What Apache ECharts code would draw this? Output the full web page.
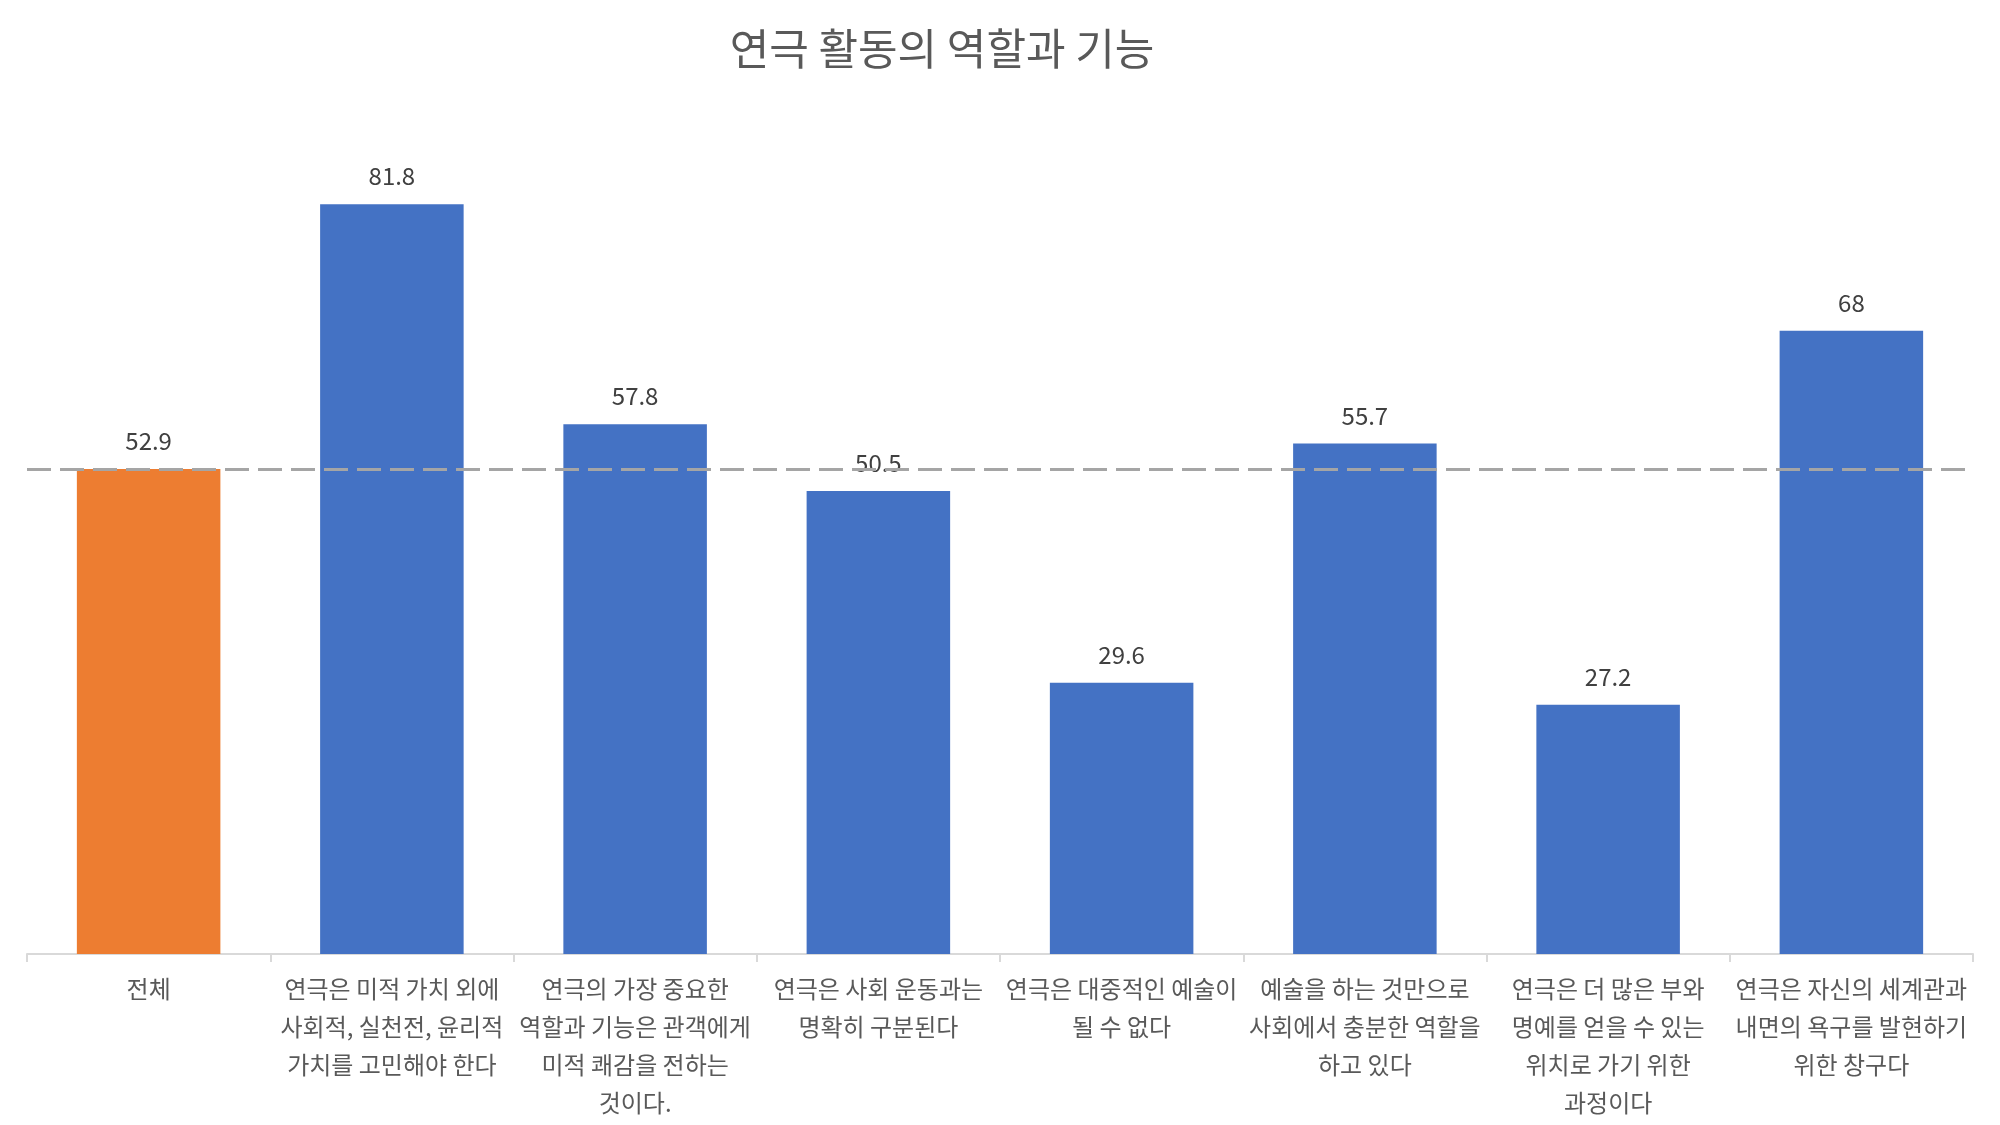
<!DOCTYPE html>
<html>
<head>
<meta charset="utf-8">
<script src="https://cdn.jsdelivr.net/npm/echarts@6/dist/echarts.min.js"></script>
<style>html,body{margin:0;padding:0;background:#fff}#c{width:2000px;height:1125px}</style>
</head>
<body>
<div id="c"></div>
<script>
const titleText = '연극 활동의 역할과 기능';
const categories = [
  '전체',
  '연극은 미적 가치 외에\n사회적, 실천전, 윤리적\n가치를 고민해야 한다',
  '연극의 가장 중요한\n역할과 기능은 관객에게\n미적 쾌감을 전하는\n것이다.',
  '연극은 사회 운동과는\n명확히 구분된다',
  '연극은 대중적인 예술이\n될 수 없다',
  '예술을 하는 것만으로\n사회에서 충분한 역할을\n하고 있다',
  '연극은 더 많은 부와\n명예를 얻을 수 있는\n위치로 가기 위한\n과정이다',
  '연극은 자신의 세계관과\n내면의 욕구를 발현하기\n위한 창구다'
];
const values = [52.9, 81.8, 57.8, 50.5, 29.6, 55.7, 27.2, 68];
const averageValue = 52.9;

const FONT = '"Noto Sans CJK KR", "Noto Sans", sans-serif';
const chart = echarts.init(document.getElementById('c'));
chart.setOption({
  backgroundColor: '#ffffff',
  animation: false,
  title: {
    text: titleText,
    left: 937,
    top: 22,
    textAlign: 'center',
    textStyle: { fontFamily: FONT, fontSize: 43, fontWeight: 'normal', color: '#595959' }
  },
  grid: { left: 27, right: 27, top: 129, bottom: 171 },
  xAxis: {
    type: 'category',
    data: categories,
    axisLine: { lineStyle: { color: '#D9D9D9', width: 2 } },
    axisTick: { show: true, length: 8, lineStyle: { color: '#D9D9D9', width: 2 } },
    axisLabel: {
      interval: 0, margin: 16,
      fontFamily: FONT, fontSize: 24, lineHeight: 38, color: '#595959'
    }
  },
  yAxis: { type: 'value', min: 0, max: 90, show: false, splitLine: { show: false } },
  series: [{
    type: 'bar',
    data: values.map((v, i) => ({ value: v, itemStyle: { color: i === 0 ? '#ED7D31' : '#4472C4' } })),
    barWidth: '59%',
    label: {
      show: true, position: 'top', distance: 16,
      fontFamily: FONT, fontSize: 24, color: '#404040'
    },
    markLine: {
      silent: true,
      symbol: ['none', 'none'],
      label: { show: false },
      lineStyle: { color: '#A5A5A5', width: 3, type: [24, 9] },
      data: [{ yAxis: averageValue }]
    },
    z: 2
  }]
});
</script>
</body>
</html>
